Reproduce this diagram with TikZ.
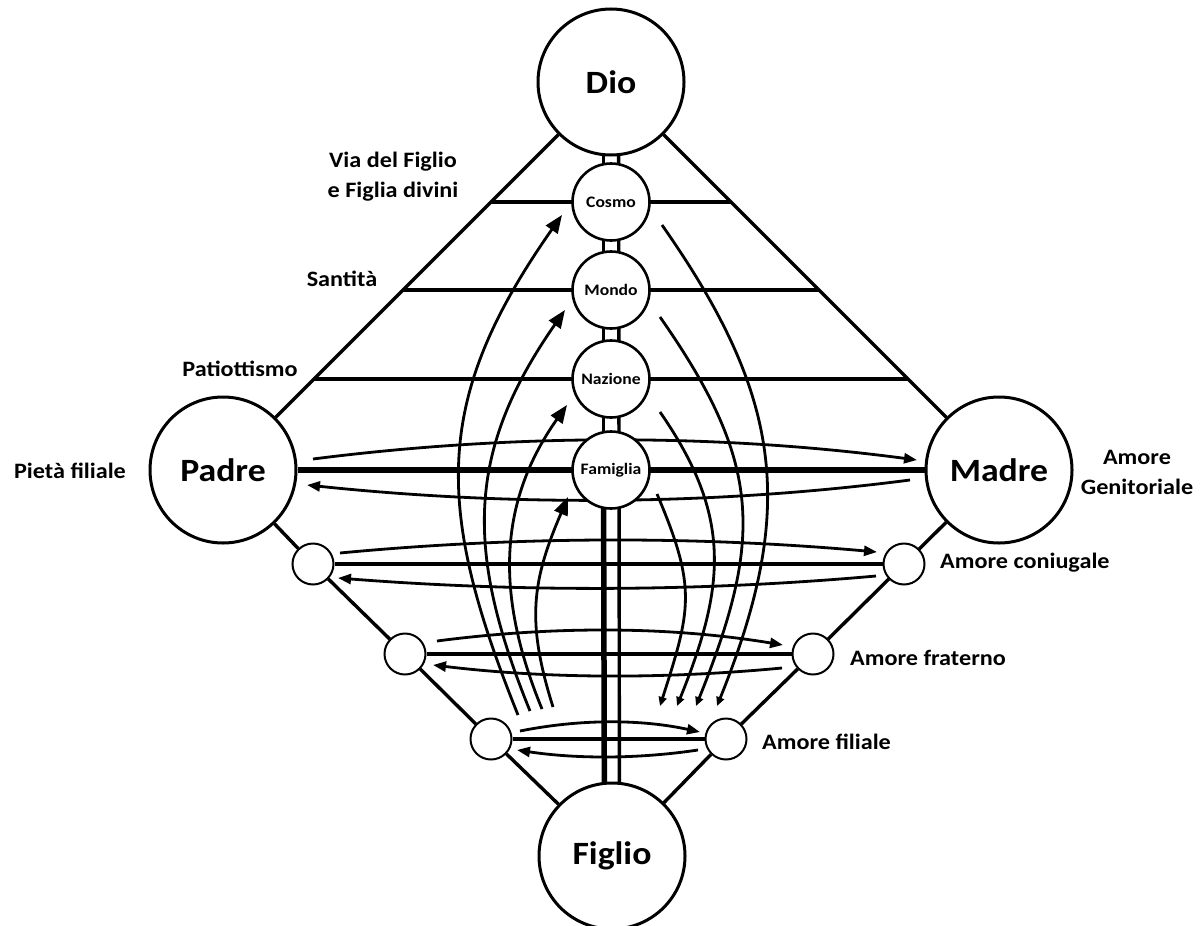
\documentclass[tikz,border=0pt]{standalone}
\usepackage{fontspec}
\setmainfont{Carlito}[FakeStretch=1.1]
\usetikzlibrary{arrows.meta,calc}
\pgfdeclarelayer{background}
\pgfdeclarelayer{canvas}
\pgfsetlayers{canvas,background,main}
\begin{document}
\begin{tikzpicture}[x=1pt,y=-1pt,
  big/.style={circle, draw, line width=3pt, fill=white, minimum size=146pt, inner sep=0pt, font=\bfseries\fontsize{32.5}{36}\selectfont},
  mid/.style={circle, draw, line width=2.6pt, fill=white, minimum size=77pt, inner sep=0pt, font=\bfseries\fontsize{16}{18}\selectfont},
  small/.style={circle, draw, line width=2pt, fill=white, minimum size=41pt, inner sep=0pt},
  edge/.style={line width=3.4pt},
  arr/.style={line width=2.8pt, -{Triangle[length=13pt,width=10pt]}},
  uparr/.style={line width=2.8pt, -{Triangle[length=18pt,width=14pt]}},
  downarr/.style={line width=2.8pt, -{Triangle[length=9pt,width=8pt]}},
  lbl/.style={font=\bfseries\fontsize{22}{30}\selectfont, align=center, inner sep=0pt}
]
\useasboundingbox (0,0) rectangle (1202,926);
\begin{pgfonlayer}{canvas}
\fill[white] (0,0) rectangle (1202,926);
\end{pgfonlayer}

% main circles
\node[big] (dio) at (611,82) {Dio};
\node[big] (padre) at (223,470) {Padre};
\node[big] (madre) at (999,470) {Madre};
\node[big] (figlio) at (612,856) {Figlio};

\node[mid] (cosmo) at (611,202) {Cosmo};
\node[mid] (mondo) at (611,290) {Mondo};
\node[mid] (nazione) at (611,379) {Nazione};
\node[mid] (famiglia) at (611,470) {Famiglia};

\node[small] (l1) at (313,564) {};
\node[small] (l2) at (405,654) {};
\node[small] (l3) at (491,739) {};
\node[small] (r1) at (904,564) {};
\node[small] (r2) at (813,654) {};
\node[small] (r3) at (726,739) {};

% labels
\node[lbl] (via) at (393,177) {Via del Figlio\\e Figlia divini};
\node[lbl] (santita) at (342,279) {Santità};
\node[lbl] (patri) at (240,369) {Patiottismo};
\node[lbl] (pieta) at (70,471) {Pietà filiale};
\node[lbl] (genit) at (1137,472) {Amore\\Genitoriale};
\node[lbl, anchor=west] (coniug) at (940,563) {Amore coniugale};
\node[lbl, anchor=west] (frat) at (850,658) {Amore fraterno};
\node[lbl, anchor=west] (filiale) at (762,742) {Amore filiale};

\begin{pgfonlayer}{background}
% frame
\draw[edge] (dio) -- (padre);
\draw[edge] (dio) -- (madre);
\draw[edge] (padre) -- (l1);
\draw[edge] (l1) -- (l2);
\draw[edge] (l2) -- (l3);
\draw[edge] (l3) -- (figlio);
\draw[edge] (madre) -- (r1);
\draw[edge] (r1) -- (r2);
\draw[edge] (r2) -- (r3);
\draw[edge] (r3) -- (figlio);

% level lines
\coordinate (c1L) at ($(dio.center)!0.309!(padre.center)$);
\coordinate (c1R) at ($(dio.center)!0.309!(madre.center)$);
\coordinate (c2L) at ($(dio.center)!0.536!(padre.center)$);
\coordinate (c2R) at ($(dio.center)!0.536!(madre.center)$);
\coordinate (c3L) at ($(dio.center)!0.765!(padre.center)$);
\coordinate (c3R) at ($(dio.center)!0.765!(madre.center)$);
\draw[edge] (c1L) -- (c1R);
\draw[edge] (c2L) -- (c2R);
\draw[edge] (c3L) -- (c3R);
\draw[line width=5.5pt] (padre) -- (madre);

% double vertical line
\draw[line width=3.8pt] ($(dio.center)+(-7.5,0)$) -- ($(famiglia.center)+(-7.5,0)$);
\draw[line width=5.5pt] ($(famiglia.center)+(-7.5,0)$) -- ($(figlio.center)+(-7.5,0)$);
\draw[line width=3.4pt] ($(dio.center)+(7.5,0)$) -- ($(figlio.center)+(7.5,0)$);

% straight lines between small circles
\draw[edge] (l1) -- (r1);
\draw[edge] (l2) -- (r2);
\draw[edge] (l3) -- (r3);

% horizontal arrows
\coordinate (pa1) at (313,459); \coordinate (ma1) at (917,460);
\coordinate (ma2) at (910,480); \coordinate (pa2) at (307,485);
\draw[arr] (pa1) .. controls (513,433.5) and (717,433.5) .. (ma1);
\draw[arr] (ma2) .. controls (710,506) and (507,506) .. (pa2);

\coordinate (a1s) at (340,553); \coordinate (a1e) at (877,552);
\coordinate (b1s) at (876,576); \coordinate (b1e) at (338,578);
\draw[arr] (a1s) .. controls (519,536) and (698,536) .. (a1e);
\draw[arr] (b1s) .. controls (697,592) and (517,592) .. (b1e);

\coordinate (a2s) at (437,641); \coordinate (a2e) at (783,645);
\coordinate (b2s) at (782,668); \coordinate (b2e) at (433,665);
\draw[arr] (a2s) .. controls (552,626) and (668,626) .. (a2e);
\draw[arr] (b2s) .. controls (666,679) and (549,679) .. (b2e);

\coordinate (a3s) at (520,731); \coordinate (a3e) at (700,732);
\coordinate (b3s) at (698,750); \coordinate (b3e) at (517,750);
\draw[arr] (a3s) .. controls (580,719) and (640,719) .. (a3e);
\draw[arr] (b3s) .. controls (638,759) and (577,759) .. (b3e);

% upward curved arrows (left)
\coordinate (u1s) at (518,715); \coordinate (u1e) at (562,215);
\coordinate (u2s) at (530,711); \coordinate (u2e) at (565,310);
\coordinate (u3s) at (542,709); \coordinate (u3e) at (567,405);
\coordinate (u4s) at (553,707); \coordinate (u4e) at (568,497);
\draw[uparr] (u1s) .. controls (434,506) and (433,399) .. (u1e);
\draw[uparr] (u2s) .. controls (465,551) and (466,452) .. (u2e);
\draw[uparr] (u3s) .. controls (496,597) and (497,504) .. (u3e);
\draw[uparr] (u4s) .. controls (526,621) and (532,581) .. (u4e);

% downward curved arrows (right)
\coordinate (d1s) at (662,225); \coordinate (d1e) at (717,706);
\coordinate (d2s) at (660,317); \coordinate (d2e) at (696,706);
\coordinate (d3s) at (660,412); \coordinate (d3e) at (677,706);
\coordinate (d4s) at (657,494); \coordinate (d4e) at (660,706);
\draw[downarr] (d1s) .. controls (784,399) and (796,510) .. (d1e);
\draw[downarr] (d2s) .. controls (763,464) and (763,539) .. (d2e);
\draw[downarr] (d3s) .. controls (733,517) and (725,587) .. (d3e);
\draw[downarr] (d4s) .. controls (697,588) and (691,609) .. (d4e);
\end{pgfonlayer}
\end{tikzpicture}
\end{document}
